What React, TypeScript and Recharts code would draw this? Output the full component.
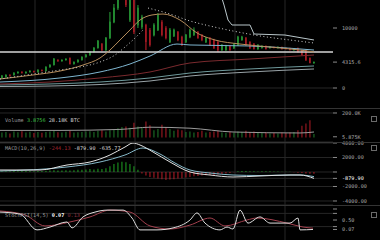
import React from "react";
import {
  ComposedChart, Bar, Line, XAxis, YAxis, CartesianGrid, ReferenceLine, Cell,
} from "recharts";

// weekly candles, BTC
const OPEN = [
  1670, 1830, 2170, 2170, 2500, 2670, 2500, 2670, 2830, 2670,
  3000, 2830, 3500, 3830, 4670, 4500, 4670, 5000, 4000, 4330,
  4670, 5170, 5500, 6000, 6670, 7330, 6330, 8330, 11000, 13330,
  17170, 17670, 11330, 14670, 10500, 10170, 10500, 9670, 8830, 9670,
  11000, 10000, 7670, 8670, 9330, 8500, 7670, 8500, 8830, 9330,
  8830, 7670, 8330, 8000, 7670, 6330, 6330, 7000, 6670, 7170,
  8000, 8330, 7670, 7330, 6500, 6670, 7000, 6670, 6830, 6670,
  6830, 6670, 6670, 6330, 6670, 6330, 6330, 5000, 4170,
];
const CLOSE = [
  2000, 2170, 2000, 2500, 2670, 2500, 2670, 2830, 2670, 3000,
  2830, 3500, 3830, 4830, 4500, 4670, 4830, 4000, 4330, 4670,
  5170, 5500, 6000, 6670, 7830, 6330, 8330, 11000, 13330, 16330,
  18000, 13830, 14670, 9330, 13330, 11830, 7670, 7170, 10500, 12170,
  8830, 8330, 9670, 9670, 8000, 7170, 8830, 9670, 9670, 8330,
  8000, 8330, 7170, 6670, 6330, 7170, 7000, 6330, 7330, 8500,
  8500, 7170, 6670, 6500, 7170, 7000, 6500, 6830, 6670, 6830,
  6500, 6500, 6330, 6500, 6000, 5500, 4670, 4170, 4315.6,
];
const HIGH = [
  2170, 2250, 2300, 2600, 2750, 2800, 2750, 2950, 2900, 3100,
  3100, 3600, 3950, 5000, 4800, 4750, 4950, 5100, 4400, 4750,
  5250, 5650, 6150, 6800, 8000, 7500, 8500, 12670, 14000, 17000,
  19500, 18500, 15200, 15000, 13830, 12200, 10700, 10000, 10800, 12500,
  11300, 10300, 10000, 9900, 9500, 8700, 9000, 9900, 10100, 9500,
  9000, 8500, 8500, 8200, 7900, 7300, 7200, 7100, 7500, 8700,
  8700, 8500, 7800, 7500, 7300, 7100, 7100, 6950, 6900, 6900,
  6900, 6750, 6700, 6600, 6750, 6400, 6400, 5100, 4400,
];
const LOW = [
  1500, 1750, 1900, 2100, 2400, 2400, 2400, 2600, 2550, 2600,
  2750, 2800, 3400, 3800, 4350, 4400, 4600, 3900, 3950, 4250,
  4600, 5100, 5400, 5950, 6600, 6100, 6200, 8200, 10800, 13000,
  16500, 13500, 11000, 9000, 10000, 9800, 6330, 6900, 8600, 9500,
  8600, 8100, 7500, 8500, 7800, 7000, 7500, 8300, 8700, 8200,
  7800, 7500, 7000, 6500, 6000, 6200, 6200, 6200, 6500, 7000,
  7900, 7000, 6500, 6400, 6400, 6600, 6400, 6600, 6600, 6600,
  6400, 6400, 6250, 6250, 5900, 5400, 4500, 4100, 4100,
];
// volume, thousands of BTC
const VOLUME = [
  40, 45, 32, 50, 42, 52, 40, 46, 36, 45, 38,
  45, 50, 55, 42, 40, 46, 56, 40, 42, 45, 50, 52, 45, 55, 60, 50,
  60, 65, 75, 85, 90, 80, 120, 90, 80, 130, 100,
  60, 70, 105, 85, 70, 55, 65, 60,
  45, 50, 40, 45, 55, 40, 45, 50, 55, 40, 38, 45, 40, 50, 45,
  55, 45, 50, 40, 36, 45, 32, 36, 32, 40, 36, 40,
  45, 60, 95, 115, 140, 28.18,
];
const HIST = [
  100, 120, 100, 150, 120, 130, 150, 140, 120, 150, 130, 180, 200, 250, 220,
  200, 250, 200, 250, 300, 300, 350, 400, 350, 450, 400, 500,
  800, 1100, 1300, 1400, 1350, 1100, 800, 300,
  -200, -500, -700, -800, -900, -1000, -1100, -1050, -1000, -900, -850, -750,
  -700, -600, -550, -500, -450, -400, -400, -350, -300, -200, -150, -50,
  100, 150, 150, 120, 100, 80, 100, 120, 100, 80, 60, 50, 40, 30,
  -50, -100, -150, -200, -240, -244.13,
];

// overlay lines: positions in candle units, values
const MA_X = [0, 8.25, 15, 20.75, 25, 27.5, 30, 32.5, 35, 38, 40.75, 45, 49.25, 53.75, 60, 67.5, 75, 78.5];
const MA = [1500, 2170, 2830, 3830, 5000, 6330, 8000, 9670, 11330, 12170, 12330, 11330, 9170, 8000, 7330, 6830, 6330, 6000];
const SAR_LO_X = [0, 5, 10, 15, 20, 25, 28.75, 31.25, 33.75, 35.75];
const SAR_LO = [1500, 2000, 2500, 3000, 3500, 4330, 5500, 6830, 8330, 9670];
const SAR_HI_X = [37, 42.5, 47.5, 52.5, 58.25, 65, 72.5, 78.5];
const SAR_HI = [13330, 12330, 11170, 10330, 9500, 8670, 8000, 7500];
const BLUE_X = [0, 15, 25, 32.5, 37.5, 44.25, 47.5, 62.5, 78.5];
const BLUE = [1000, 1670, 2670, 4000, 5330, 7330, 7170, 7000, 6330];
const BAND_X = [52.5, 55, 56, 57, 58, 62.5, 63.5, 71.25, 78.5];
const BAND = [21330, 16000, 13830, 11330, 10500, 10500, 9000, 8830, 8000];
const SLOW_X = [0, 12.5, 25, 37.5, 47.5, 62.5, 78.5];
const SLOW_RED = [670, 1000, 1670, 2670, 4170, 4830, 5500];
const SLOW_TEAL = [500, 670, 1000, 1670, 2500, 3170, 3670];
const SLOW_GRAY = [250, 330, 580, 1170, 2000, 2670, 3170];
const H_LINE = 6000;

const VOL_MA_X = [0, 15, 30, 37.5, 47.5, 58.25, 75, 78.5];
const VOL_MA = [58000, 58000, 66000, 84000, 76000, 45000, 37000, 45000];

const MACD_X = [0, 10, 16.75, 22.5, 27.5, 31.25, 33.25, 35, 38.25, 42.5, 47.5, 52.5, 58.25, 65, 72.5, 75, 78.5];
const MACD = [276, 276, 966, 1379, 2345, 3448, 4000, 3724, 2759, 1379, 0, -414, -690, -552, -414, -414, -879.9];
const SIGNAL_X = [0, 16.75, 25, 31.25, 35.75, 40, 43.75, 47.5, 52.5, 58.25, 65, 72.5, 75, 78.5];
const SIGNAL = [138, 690, 1379, 2345, 3310, 2483, 1241, 276, -138, -414, -483, -414, -414, -635.77];

const K_X = [0, 5, 9.25, 12.5, 16.75, 18, 20.75, 23.75, 26.75, 30.75, 33, 35, 39.25, 43.25, 47.5, 49.25, 51.25, 55, 56.75, 58.25, 60, 62, 65, 67.5, 72.5, 74.5, 75, 78.25];
const K = [0.86, 0.77, 0.05, 0.18, 0.41, 0.14, 0.64, 0.86, 0.95, 0.95, 0.59, 0.05, 0.05, 0.14, 0.5, 0.82, 0.36, 0.05, 0.18, 0.09, 0.95, 0.36, 0.64, 0.36, 0.36, 0.59, 0.05, 0.07];
const D_X = [0, 6.25, 11.25, 17.5, 22.5, 27.5, 32.5, 37.5, 42.5, 47.5, 52.5, 56.25, 61.75, 64.25, 71.75, 75.75, 78.25];
const D = [0.91, 0.73, 0.23, 0.41, 0.64, 0.95, 0.86, 0.23, 0.09, 0.27, 0.59, 0.23, 0.5, 0.59, 0.36, 0.18, 0.13];

const GRID_X = [8.75, 21.25, 33.75, 46.25, 58.75, 71.25];
const X_DOMAIN: [number, number] = [0, 83.25];

const GREEN = "#2aa43a";
const RED = "#d0202c";
const MONO = "DejaVu Sans Mono";
const W = 380;
const AXIS_W = 47;

const rows = OPEN.map((o, i) => ({
  x: i + 0.5,
  open: o,
  close: CLOSE[i],
  high: HIGH[i],
  low: LOW[i],
  vol: VOLUME[i] * 1000,
  hist: HIST[i],
}));

const pts = (xs: number[], vs: number[]) => xs.map((x, i) => ({ x, v: vs[i] }));

function Candle(props: any) {
  const { x, y, width, height, payload } = props;
  if (!payload || !isFinite(y)) return null;
  const top = Math.min(y, y + height);
  const h = Math.abs(height);
  const k = payload.high === payload.low ? 0 : h / (payload.high - payload.low);
  const yo = top + (payload.high - payload.open) * k;
  const yc = top + (payload.high - payload.close) * k;
  const up = payload.close >= payload.open;
  const color = up ? GREEN : RED;
  const cx = x + width / 2;
  return (
    <g>
      <line x1={cx} x2={cx} y1={top} y2={top + h} stroke={color} strokeWidth={1} />
      <rect
        x={x}
        y={Math.min(yo, yc)}
        width={width}
        height={Math.max(1, Math.abs(yc - yo))}
        fill={up ? "#1c6e28" : RED}
        stroke={color}
        strokeWidth={up ? 0.6 : 0}
      />
    </g>
  );
}

const makeTick = (fmt: (v: number) => string, highlight?: number) => (p: any) => (
  <text
    x={p.x}
    y={p.y}
    dy={2}
    fontSize={5.2}
    fontFamily={MONO}
    fill={p.payload.value === highlight ? "#ffffff" : "#a8a8a8"}
    textAnchor="start"
  >
    {fmt(p.payload.value)}
  </text>
);

function xAxis() {
  return (
    <XAxis
      dataKey="x"
      type="number"
      domain={X_DOMAIN}
      ticks={GRID_X}
      allowDataOverflow
      hide
    />
  );
}

function yAxis(domain: [number, number], ticks: number[], fmt: (v: number) => string, highlight?: number) {
  return (
    <YAxis
      orientation="right"
      width={AXIS_W}
      type="number"
      domain={domain}
      ticks={ticks}
      interval={0}
      allowDataOverflow
      axisLine={false}
      tickSize={4}
      tickMargin={5}
      tickLine={{ stroke: "#8a8a8a" }}
      tick={makeTick(fmt, highlight)}
    />
  );
}

const line = (data: { x: number; v: number }[], color: string, extra: any = {}) => (
  <Line
    data={data}
    dataKey="v"
    type="monotone"
    stroke={color}
    strokeWidth={1}
    dot={false}
    activeDot={false}
    isAnimationActive={false}
    {...extra}
  />
);

const MARGIN = { top: 0, right: 0, bottom: 0, left: 0 };
const GRID = "#262626";

function Label({ top, parts }: { top: number; parts: [string, string, boolean?][] }) {
  return (
    <div
      style={{
        position: "absolute", left: 5, top, fontFamily: MONO, fontSize: 5.2,
        whiteSpace: "pre", lineHeight: "6px",
      }}
    >
      {parts.map(([t, c, b], i) => (
        <span key={i} style={{ color: c, fontWeight: b ? "bold" : "normal" }}>{t}</span>
      ))}
    </div>
  );
}

const Icon = ({ top }: { top: number }) => (
  <div style={{ position: "absolute", left: 371, top, width: 4, height: 4, border: "1px solid #6a6a6a" }} />
);

const Sep = ({ top }: { top: number }) => (
  <div style={{ position: "absolute", left: 0, top, width: W, height: 1, background: "#343434" }} />
);

export default function App() {
  return (
    <div style={{ position: "absolute", left: 0, top: 0, width: W, height: 240, background: "#000", overflow: "hidden" }}>
      <div style={{ position: "absolute", left: 0, top: 0 }}>
        <ComposedChart width={W} height={108} data={rows} margin={MARGIN}>
          <CartesianGrid stroke={GRID} verticalValues={GRID_X} horizontalValues={[0]} />
          {xAxis()}
          {yAxis([-3333, 14667], [0, 4315.6, 10000], (v) => String(v))}
          {line(pts(SLOW_X, SLOW_GRAY), "#9aa4a8")}
          {line(pts(SLOW_X, SLOW_TEAL), "#6f9a9c")}
          {line(pts(SLOW_X, SLOW_RED), "#7a2a2e")}
          {line(pts(BLUE_X, BLUE), "#7fb6d0")}
          {line(pts(BAND_X, BAND), "#b9c6ca", { type: "linear" })}
          <ReferenceLine y={H_LINE} stroke="#d4d4d4" strokeWidth={1.3} />
          <Bar dataKey={(d: any) => [d.low, d.high]} barSize={3} shape={Candle} isAnimationActive={false} />
          {line(pts(MA_X, MA), "#b58d5c")}
          {line(pts(SAR_LO_X, SAR_LO), "#d0d0d0", { strokeDasharray: "1 2.5" })}
          {line(pts(SAR_HI_X, SAR_HI), "#d0d0d0", { strokeDasharray: "1 2.5" })}
        </ComposedChart>
      </div>

      <div style={{ position: "absolute", left: 0, top: 108 }}>
        <ComposedChart width={W} height={34} data={rows} margin={MARGIN}>
          <CartesianGrid stroke={GRID} verticalValues={GRID_X} horizontalValues={[200000]} />
          {xAxis()}
          {yAxis([-36700, 240800], [200000, 5875], (v) => (v >= 100000 ? (v / 1000).toFixed(1) + "K" : (v / 1000).toFixed(3) + "K"))}
          <Bar dataKey="vol" barSize={3} isAnimationActive={false}>
            {rows.map((r, i) => (
              <Cell key={i} fill={r.close >= r.open ? "#23872e" : "#c41e2a"} />
            ))}
          </Bar>
          {line(pts(VOL_MA_X, VOL_MA), "#9a9a9a")}
        </ComposedChart>
      </div>

      <div style={{ position: "absolute", left: 0, top: 138 }}>
        <ComposedChart width={W} height={67} data={rows} margin={{ top: 4, right: 0, bottom: 0, left: 0 }}>
          <CartesianGrid stroke={GRID} verticalValues={GRID_X} horizontalValues={[]} />
          {xAxis()}
          {yAxis([-4552, 4138], [4000, 2000, 0, -879.9, -2000, -4000], (v) => (v === 0 ? "" : v.toFixed(2)), -879.9)}
          <Bar dataKey="hist" barSize={3} isAnimationActive={false}>
            {rows.map((r, i) => (
              <Cell key={i} fill={r.hist >= 0 ? "#22b526" : "#cc1f2c"} />
            ))}
          </Bar>
          {line(pts(SIGNAL_X, SIGNAL), "#86b9c9")}
          {line(pts(MACD_X, MACD), "#e2e2e2")}
        </ComposedChart>
      </div>

      <div style={{ position: "absolute", left: 0, top: 205 }}>
        <ComposedChart width={W} height={35} data={rows} margin={MARGIN}>
          <CartesianGrid stroke={GRID} verticalValues={GRID_X} horizontalValues={[0.8, 0.2]} />
          {xAxis()}
          {yAxis([-0.409, 1.182], [1, 0.8, 0.5, 0.2, 0.07], (v) => (v === 0.5 || v === 0.07 ? v.toFixed(2) : ""))}
          {line(pts(D_X, D), "#a3404e")}
          {line(pts(K_X, K), "#dedede")}
        </ComposedChart>
      </div>

      <Sep top={108} />
      <Sep top={142} />
      <Sep top={205} />

      <Label top={117} parts={[["Volume ", "#9a9a9a"], ["3.8756 ", "#3cbf44"], ["28.18K BTC", "#cfcfcf"]]} />
      <Label top={145} parts={[["MACD(10,26,9) ", "#9a9a9a"], ["-244.13 ", "#a02830"], ["-879.90 ", "#d8d8d8"], ["-635.77", "#d8d8d8"]]} />
      <Label top={212} parts={[["StochRSI(14,5) ", "#9a9a9a"], ["0.07 ", "#ffffff", true], ["0.13", "#8a3040"]]} />

      <Icon top={116} />
      <Icon top={145} />
      <Icon top={212} />
    </div>
  );
}
